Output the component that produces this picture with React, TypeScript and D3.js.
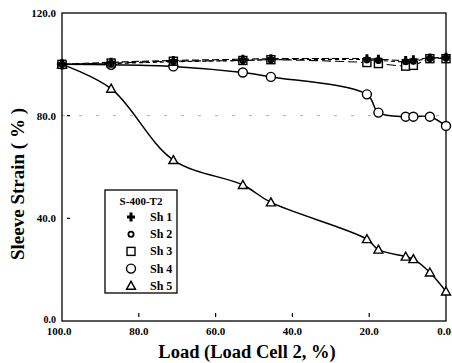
import React from "react";
import * as d3 from "d3";

const loads = [100, 87.2, 71.0, 52.9, 45.6, 20.6, 17.6, 10.5, 8.5, 4.2, 0];
const sh1 = [100, 100.8, 101.5, 102.0, 102.2, 102.2, 102.0, 101.5, 101.8, 102.5, 102.8];
const sh2 = [100, 100.3, 101.0, 101.5, 101.8, 101.8, 101.5, 101.0, 101.2, 102.3, 102.5];
const sh3 = [100, 100.5, 101.2, 101.5, 101.8, 100.7, 100.3, 99.3, 99.6, 102.2, 102.2];
const sh4 = [100, 99.8, 99.2, 96.8, 95.1, 88.3, 81.2, 79.6, 79.6, 79.6, 76.0];
const sh5 = [100, 90.5, 62.7, 53.0, 46.2, 31.9, 27.8, 25.1, 24.1, 18.9, 11.5];
const xTicks = [100, 80, 60, 40, 20, 0];
const yTicks = [0, 40, 80, 120];
const seriesNames = ["Sh 1", "Sh 2", "Sh 3", "Sh 4", "Sh 5"];
const legendTitle = "S-400-T2";

const W = 452, H = 363;
const L = 62, R = 446, T = 13, B = 321;
const FONT = '"Liberation Serif", "Times New Roman", serif';

function Marker({ kind, x, y }: { kind: number; x: number; y: number }) {
  const sw = 1.4;
  if (kind === 0) {
    return (
      <path
        d={`M${x - 4},${y}H${x + 4}M${x},${y - 4.5}V${y + 4.5}`}
        stroke="#000"
        strokeWidth={3}
      />
    );
  }
  if (kind === 1) {
    return <circle cx={x} cy={y} r={2.6} fill="#fff" stroke="#000" strokeWidth={1.8} />;
  }
  if (kind === 2) {
    return <rect x={x - 4} y={y - 4} width={8} height={8} fill="#fff" stroke="#000" strokeWidth={sw} />;
  }
  if (kind === 3) {
    return <circle cx={x} cy={y} r={4.5} fill="#fff" stroke="#000" strokeWidth={sw} />;
  }
  return (
    <path
      d={`M${x},${y - 4.5}L${x + 4.5},${y + 3.5}L${x - 4.5},${y + 3.5}Z`}
      fill="#fff"
      stroke="#000"
      strokeWidth={sw}
    />
  );
}

export default function App() {
  const x = d3.scaleLinear().domain([100, 0]).range([L, R]);
  const y = d3.scaleLinear().domain([0, 120]).range([B, T]);
  const line = d3
    .line<[number, number]>()
    .x((d) => x(d[0]))
    .y((d) => y(d[1]))
    .curve(d3.curveCatmullRom.alpha(0.5));

  const series = [sh1, sh2, sh3, sh4, sh5];
  const styles = [
    { dash: "7,3", w: 1.1 },
    { dash: "4,3", w: 1.1 },
    { dash: "9,4", w: 1.1 },
    { dash: "", w: 1.5 },
    { dash: "", w: 1.5 },
  ];

  return (
    <svg
      width={W}
      height={H}
      style={{ position: "absolute", left: 0, top: 0, background: "#fff" }}
      fontFamily={FONT}
      fontWeight="bold"
    >
      <rect x={0} y={0} width={W} height={H} fill="#fff" />
      {/* faint grid line */}
      <line x1={L} x2={R} y1={y(80)} y2={y(80)} stroke="#aaa" strokeWidth={1} strokeDasharray="3,14" />
      {/* frame */}
      <rect x={L} y={T} width={R - L} height={B - T} fill="none" stroke="#000" strokeWidth={1.3} />
      {/* inner ticks */}
      {xTicks.slice(1, -1).map((t) => (
        <line key={"xt" + t} x1={x(t)} x2={x(t)} y1={B - 8} y2={B - 4} stroke="#000" strokeWidth={1.2} />
      ))}
      {yTicks.slice(1, -1).map((t) => (
        <line key={"yt" + t} x1={L + 5} x2={L + 8} y1={y(t)} y2={y(t)} stroke="#000" strokeWidth={1.2} />
      ))}
      {/* tick labels */}
      {xTicks.map((t) => (
        <text
          key={"xl" + t}
          x={t === 0 ? 451 : x(t) - (t === 100 ? 3 : 0)}
          y={B + 14}
          fontSize={11}
          textAnchor={t === 0 ? "end" : "middle"}
        >
          {t.toFixed(1)}
        </text>
      ))}
      {yTicks.map((t) => (
        <text key={"yl" + t} x={L - 6} y={y(t) + (t === 0 ? 2 : 4)} fontSize={t === 0 ? 10 : 11} textAnchor="end">
          {t.toFixed(1)}
        </text>
      ))}
      {/* lines */}
      {series.map((s, i) => (
        <path
          key={"l" + i}
          d={line(loads.map((l, j) => [l, s[j]] as [number, number])) || ""}
          fill="none"
          stroke="#000"
          strokeWidth={styles[i].w}
          strokeDasharray={styles[i].dash || undefined}
        />
      ))}
      {/* markers */}
      {[4, 3, 2, 1, 0].map((i) =>
        loads.map((l, j) => <Marker key={`m${i}-${j}`} kind={i} x={x(l)} y={y(series[i][j])} />)
      )}
      {/* legend */}
      <rect x={105} y={190} width={72} height={103} fill="#fff" stroke="#000" strokeWidth={1.3} />
      <text x={141} y={205} fontSize={11} textAnchor="middle">
        {legendTitle}
      </text>
      {seriesNames.map((n, i) => (
        <g key={"lg" + i}>
          <Marker kind={i} x={131} y={217 + i * 17.2} />
          <text x={150} y={221 + i * 17.2} fontSize={12}>
            {n}
          </text>
        </g>
      ))}
      {/* axis titles */}
      <text x={247} y={358} fontSize={18.5} textAnchor="middle">
        Load (Load Cell 2, %)
      </text>
      <text transform={`translate(24,184) rotate(-90)`} fontSize={19} textAnchor="middle">
        Sleeve Strain ( % )
      </text>
    </svg>
  );
}
